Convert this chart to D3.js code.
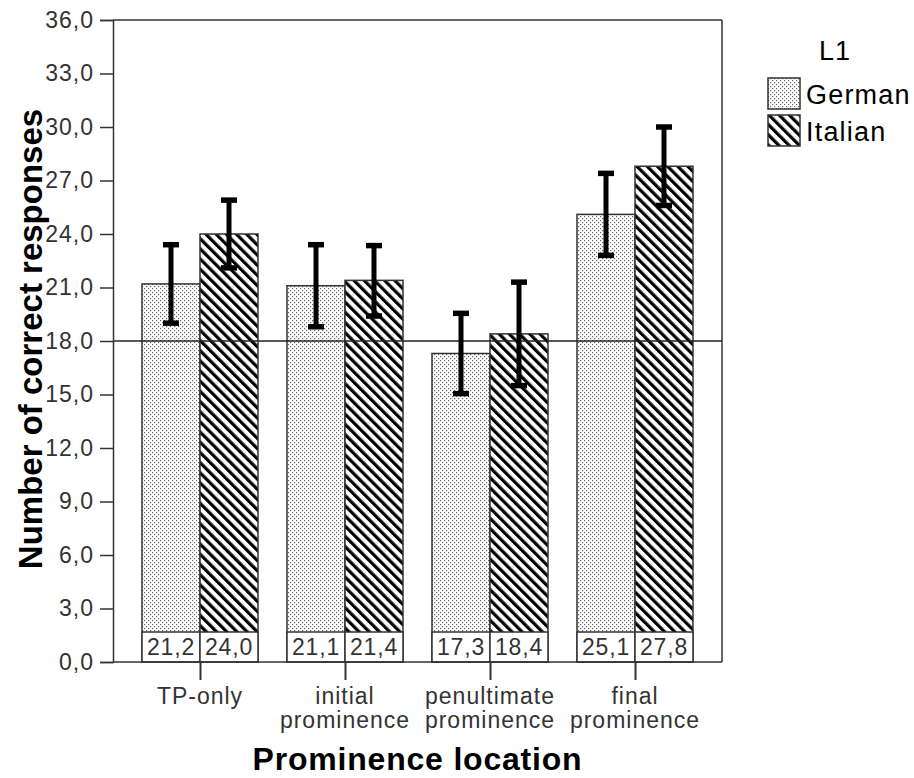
<!DOCTYPE html>
<html><head><meta charset="utf-8">
<script src="https://cdn.jsdelivr.net/npm/d3@7"></script>
<style>body{margin:0;background:#fff}svg{display:block}text{font-family:"Liberation Sans",Arial,sans-serif}</style>
</head><body><svg id="c" width="914" height="778"></svg>
<script>
const categories = ["TP-only", "initial prominence", "penultimate prominence", "final prominence"];
const categoryLines = [["TP-only"], ["initial", "prominence"], ["penultimate", "prominence"], ["final", "prominence"]];
const seriesNames = ["German", "Italian"];
const german = [21.2, 21.1, 17.3, 25.1];
const italian = [24.0, 21.4, 18.4, 27.8];
const germanLow = [19.0, 18.8, 15.05, 22.8];
const germanHigh = [23.4, 23.4, 19.55, 27.4];
const italianLow = [22.1, 19.4, 15.5, 25.6];
const italianHigh = [25.9, 23.35, 21.3, 30.0];
const yTicks = [0, 3, 6, 9, 12, 15, 18, 21, 24, 27, 30, 33, 36];
const refValue = 18;

const svg = d3.select("#c");
const L = 113, R = 722, T = 20, B = 662;
const y = d3.scaleLinear().domain([0, 36]).range([B, T]);
const x = d3.scalePoint().domain(categories).range([L, R]).padding(0.6);
const xs = d3.scaleBand().domain(seriesNames).range([-58, 58]);
const fmt = v => d3.format(".1f")(v).replace(".", ",");

const defs = svg.append("defs");
const pd = defs.append("pattern").attr("id", "dots").attr("patternUnits", "userSpaceOnUse").attr("width", 4).attr("height", 4);
pd.append("rect").attr("width", 4).attr("height", 4).attr("fill", "#fff");
pd.append("rect").attr("x", 0).attr("y", 0).attr("width", 1.2).attr("height", 1.2).attr("fill", "#666");
pd.append("rect").attr("x", 2).attr("y", 2).attr("width", 1.2).attr("height", 1.2).attr("fill", "#666");
const ps = defs.append("pattern").attr("id", "stripes").attr("patternUnits", "userSpaceOnUse").attr("width", 7.2).attr("height", 7.2).attr("patternTransform", "rotate(-45)");
ps.append("rect").attr("width", 7.2).attr("height", 7.2).attr("fill", "#fff");
ps.append("rect").attr("x", 0).attr("width", 3.2).attr("height", 7.2).attr("fill", "#000");
const fills = {German: "url(#dots)", Italian: "url(#stripes)"};

const rows = [];
categories.forEach((c, i) => {
  rows.push({c, s: "German", v: german[i], lo: germanLow[i], hi: germanHigh[i]});
  rows.push({c, s: "Italian", v: italian[i], lo: italianLow[i], hi: italianHigh[i]});
});

// frame
svg.append("line").attr("x1", L).attr("x2", R).attr("y1", T).attr("y2", T).attr("stroke", "#333").attr("stroke-width", 1.5);
svg.append("line").attr("x1", R).attr("x2", R).attr("y1", T).attr("y2", B).attr("stroke", "#333").attr("stroke-width", 1.5);

// bars
const g = svg.append("g");
g.selectAll("rect.bar").data(rows).join("rect").attr("class", "bar")
  .attr("x", d => x(d.c) + xs(d.s)).attr("width", xs.bandwidth())
  .attr("y", d => y(d.v)).attr("height", d => y(0) - y(d.v))
  .attr("fill", d => fills[d.s]).attr("stroke", "#333").attr("stroke-width", 1.5);

// value boxes
g.selectAll("rect.box").data(rows).join("rect").attr("class", "box")
  .attr("x", d => x(d.c) + xs(d.s)).attr("width", xs.bandwidth())
  .attr("y", B - 30).attr("height", 30)
  .attr("fill", "#fff").attr("stroke", "#333").attr("stroke-width", 1.5);
g.selectAll("text.val").data(rows).join("text").attr("class", "val")
  .attr("x", d => x(d.c) + xs(d.s) + xs.bandwidth() / 2).attr("y", B - 7)
  .attr("text-anchor", "middle").attr("font-size", 23).attr("letter-spacing", 0.8).attr("fill", "#333")
  .text(d => fmt(d.v));

// reference line
svg.append("line").attr("x1", L).attr("x2", R).attr("y1", y(refValue)).attr("y2", y(refValue)).attr("stroke", "#222").attr("stroke-width", 1.5);

// error bars
const eb = svg.append("g").attr("stroke", "#000").attr("stroke-width", 5);
rows.forEach(d => {
  const cx = x(d.c) + xs(d.s) + xs.bandwidth() / 2;
  eb.append("line").attr("x1", cx).attr("x2", cx).attr("y1", y(d.hi)).attr("y2", y(d.lo));
  eb.append("line").attr("x1", cx - 8).attr("x2", cx + 8).attr("y1", y(d.hi)).attr("y2", y(d.hi)).attr("stroke-width", 5.5);
  eb.append("line").attr("x1", cx - 8).attr("x2", cx + 8).attr("y1", y(d.lo)).attr("y2", y(d.lo)).attr("stroke-width", 5.5);
});

// y axis
const ya = svg.append("g").attr("transform", `translate(${L},0)`)
  .call(d3.axisLeft(y).tickValues(yTicks).tickFormat(fmt).tickSize(13).tickPadding(6));
ya.select(".domain").attr("stroke", "#333").attr("stroke-width", 1.5);
ya.selectAll(".tick line").attr("stroke", "#333").attr("stroke-width", 1.5);
ya.selectAll(".tick text").attr("font-size", 23).attr("letter-spacing", 1).attr("fill", "#333").attr("font-family", "Liberation Sans, Arial, sans-serif");

// x axis
const xa = svg.append("g").attr("transform", `translate(0,${B})`)
  .call(d3.axisBottom(x).tickSize(18).tickFormat(""));
xa.select(".domain").attr("stroke", "#333").attr("stroke-width", 1.5).attr("d", `M${L},0H${R}`);
xa.selectAll(".tick line").attr("stroke", "#333").attr("stroke-width", 2);
categories.forEach((c, i) => {
  const t = svg.append("text").attr("text-anchor", "middle").attr("font-size", 23).attr("letter-spacing", 1).attr("fill", "#333");
  categoryLines[i].forEach((ln, j) => t.append("tspan").attr("x", x(c)).attr("y", 704 + j * 24).text(ln));
});

// titles
svg.append("text").attr("x", (L + R) / 2).attr("y", 770).attr("text-anchor", "middle")
  .attr("font-size", 32).attr("letter-spacing", 0.8).attr("font-weight", "bold").attr("fill", "#000").text("Prominence location");
svg.append("text").attr("transform", `translate(42,${(T + B) / 2 - 2}) rotate(-90)`).attr("text-anchor", "middle")
  .attr("font-size", 33).attr("font-weight", "bold").attr("fill", "#000").text("Number of correct responses");

// legend
svg.append("text").attr("x", 835).attr("y", 60).attr("text-anchor", "middle").attr("font-size", 27).attr("letter-spacing", 1).attr("fill", "#000").text("L1");
seriesNames.forEach((s, i) => {
  const yy = 78 + i * 37;
  svg.append("rect").attr("x", 768).attr("y", yy).attr("width", 32).attr("height", 31)
    .attr("fill", fills[s]).attr("stroke", "#333").attr("stroke-width", 1.5);
  svg.append("text").attr("x", 806).attr("y", yy + 26).attr("font-size", 27).attr("letter-spacing", 1.2).attr("fill", "#000").text(s);
});
</script></body></html>
